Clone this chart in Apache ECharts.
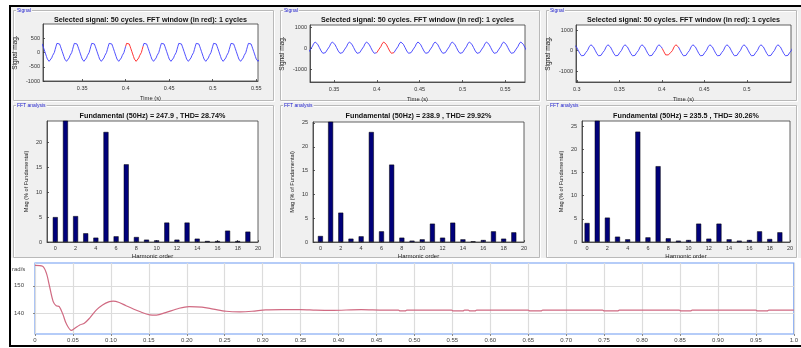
<!DOCTYPE html>
<html>
<head>
<meta charset="utf-8">
<script src="https://cdn.jsdelivr.net/npm/echarts@6/dist/echarts.min.js"></script>
<style>
  html, body { margin: 0; padding: 0; background: #fff; }
  #chart { width: 801px; height: 348px; }
</style>
</head>
<body>
<div id="chart"></div>
<script>
// ---- data ----
const harmonics = [0, 1, 2, 3, 4, 5, 6, 7, 8, 9, 10, 11, 12, 13, 14, 15, 16, 17, 18, 19];
const fft1 = [5.0, 100, 5.2, 1.75, 0.87, 22.1, 1.14, 15.6, 1.0, 0.47, 0.34, 3.9, 0.47, 3.9, 0.67, 0.2, 0.2, 2.28, 0.2, 2.08];
const fft2 = [1.26, 100, 6.16, 0.7, 1.19, 23.1, 2.24, 16.25, 0.91, 0.28, 0.56, 3.85, 0.91, 4.06, 0.56, 0.14, 0.42, 2.24, 0.7, 2.03];
const fft3 = [4.1, 100, 5.26, 1.15, 0.58, 23.8, 1.0, 16.35, 0.8, 0.29, 0.43, 3.96, 0.72, 3.96, 0.58, 0.29, 0.43, 2.3, 0.65, 2.09];
const fftTitles = [
  'Fundamental (50Hz) = 247.9 , THD= 28.74%',
  'Fundamental (50Hz) = 238.9 , THD= 29.92%',
  'Fundamental (50Hz) = 235.5 , THD= 30.26%'
];
const sigTitle = 'Selected signal: 50 cycles. FFT window (in red): 1 cycles';

// one 20 ms cycle of each signal (1 ms steps, from the rising zero crossing)
const sigCycle1 = [0, 110, 220, 320, 350, 280, 300, 220, 130, 40, -50, -140, -230, -300, -310, -250, -270, -190, -110, -50];
const sigCycle2 = [0, 90, 190, 270, 290, 230, 250, 180, 100, 20, -60, -140, -210, -250, -250, -200, -220, -160, -90, -40];
const sigCycle3 = [0, 90, 180, 260, 280, 225, 245, 175, 95, 15, -65, -145, -215, -260, -265, -215, -235, -170, -100, -45];
const sigCycleStart = [0.298, 0.304, 0.2925]; // time of first rising zero crossing
const sigStep = 0.001;
const fftWindow = [0.40, 0.42];

// rotor speed, bottom plot
const speedT = [0, 0.010, 0.015, 0.019, 0.024, 0.028, 0.032, 0.037, 0.041, 0.048, 0.052, 0.059, 0.065, 0.072, 0.081, 0.089, 0.098, 0.103, 0.111, 0.12, 0.138, 0.151, 0.16, 0.172, 0.19, 0.203, 0.22, 0.235, 0.252, 0.27, 0.286, 0.304, 0.325, 0.35, 0.37, 0.39, 0.43, 0.46, 0.479, 0.481, 0.488, 0.49, 0.549, 0.551, 0.564, 0.566, 0.571, 0.573, 0.58, 0.582, 0.65, 0.652, 0.667, 0.669, 0.748, 0.75, 0.768, 0.77, 0.849, 0.851, 0.864, 0.866, 0.95, 0.952, 0.965, 0.967, 1.0];
const speedV = [157.4, 157.1, 154.6, 150.0, 144.2, 142.7, 142.4, 139.4, 136.3, 133.7, 134.4, 135.7, 136.3, 138.2, 141.2, 143.0, 144.2, 144.4, 143.9, 142.7, 140.6, 139.4, 139.3, 140.2, 141.8, 142.4, 142.2, 141.5, 140.7, 140.5, 140.7, 141.2, 141.3, 141.3, 141.1, 141.0, 141.3, 141.1, 141.1, 140.8, 140.8, 141.1, 141.1, 140.8, 140.8, 141.1, 141.1, 140.8, 140.8, 141.1, 141.1, 140.8, 140.8, 141.1, 141.1, 140.8, 140.8, 141.1, 141.1, 140.8, 140.8, 141.1, 141.1, 140.8, 140.8, 141.1, 141.1];

// tick labels
const sigXTicks = [[0.35, 0.4, 0.45, 0.5, 0.55], [0.35, 0.4, 0.45, 0.5, 0.55], [0.3, 0.35, 0.4, 0.45, 0.5]];
const sigYTicks = [[-1000, -500, 0, 500], [-1000, 0, 1000], [-1000, 0, 1000]];
const fftXTicks = [0, 2, 4, 6, 8, 10, 12, 14, 16, 18, 20];
const fftYTicks = [[0, 5, 10, 15, 20], [0, 5, 10, 15, 20, 25], [0, 5, 10, 15, 20, 25]];
const speedYTicks = [140, 150];

// ---- build series ----
const sigCycles = [sigCycle1, sigCycle2, sigCycle3];
const ffts = [fft1, fft2, fft3];

function tile(cycle, start, tEnd) {
  const out = [];
  for (let k = 0; start + k * sigStep <= tEnd; k++) {
    out.push([+(start + k * sigStep).toFixed(4), cycle[k % cycle.length]]);
  }
  return out;
}
const inWindow = t => t >= fftWindow[0] - 1e-6 && t <= fftWindow[1] + 1e-6;
const sigData = sigCycles.map((c, i) => tile(c, sigCycleStart[i], 0.58));
const redData = sigData.map(d => d.filter(p => inWindow(p[0])));
// blue part leaves a gap where the red window is drawn
const blueData = sigData.map(d => d.map(p => {
  const inside = p[0] > fftWindow[0] + 0.0006 && p[0] < fftWindow[1] - 0.0006;
  return inside ? [p[0], null] : p;
}));

// ---- layout ----
const FONT = 'Liberation Sans';
const sigGrids = [
  { left: 43, top: 24, width: 215, height: 57 },
  { left: 310, top: 25, width: 215, height: 57 },
  { left: 576, top: 25, width: 215, height: 57 }
];
const sigRangeX = [[0.305, 0.552], [0.322, 0.573], [0.299, 0.552]];
const sigRangeY = [[-1000, 1000], [-1620, 1100], [-1537, 1244]];
const fftGrids = [
  { left: 47, top: 121, width: 211, height: 121 },
  { left: 313, top: 122, width: 211, height: 120 },
  { left: 582, top: 121, width: 208, height: 121 }
];
const fftMinX = [-0.82, -0.73, -0.5];
const fftMaxY = [24.3, 25.2, 26.1];
const cols = [[13, 275], [280, 541], [546, 798]];

const axisColor = '#3a3a3a';
const tickLabel = { fontSize: 5.5, color: '#333', fontFamily: FONT };

function matAxis(extra, ticks, fmt, margin, nameSize) {
  return Object.assign({
    type: 'value',
    axisLine: { show: true, onZero: false, lineStyle: { color: axisColor, width: 0.8 } },
    axisTick: { show: true, inside: true, length: 2, customValues: ticks, lineStyle: { color: axisColor, width: 0.8 } },
    axisLabel: Object.assign({ customValues: ticks, formatter: fmt, margin: margin, hideOverlap: false }, tickLabel),
    splitLine: { show: false },
    nameLocation: 'middle',
    nameTextStyle: { fontSize: nameSize, color: '#222', fontFamily: FONT }
  }, extra);
}
const num = v => String(parseFloat((+v).toFixed(2)));

const grid = [], xAxis = [], yAxis = [], series = [];

sigGrids.forEach((g, i) => {
  grid.push(Object.assign({ show: true, backgroundColor: '#fff', borderColor: axisColor, borderWidth: 0.8 }, g));
  xAxis.push(matAxis({ gridIndex: i, min: sigRangeX[i][0], max: sigRangeX[i][1], name: 'Time (s)', nameGap: 14 }, sigXTicks[i], num, 4, 5.8));
  yAxis.push(matAxis({ gridIndex: i, min: sigRangeY[i][0], max: sigRangeY[i][1], name: 'Signal mag.', nameGap: 24 }, sigYTicks[i], num, 3, 6.5));
});
fftGrids.forEach((g, i) => {
  grid.push(Object.assign({ show: true, backgroundColor: '#fff', borderColor: axisColor, borderWidth: 0.8 }, g));
  xAxis.push(matAxis({ gridIndex: 3 + i, min: fftMinX[i], max: 20, name: 'Harmonic order', nameGap: 11 }, fftXTicks, num, 3, 6));
  yAxis.push(matAxis({ gridIndex: 3 + i, min: 0, max: fftMaxY[i], name: 'Mag (% of Fundamental)', nameGap: 18 }, fftYTicks[i], num, 5, 5.6));
});

// bottom speed plot
grid.push({ left: 35, top: 263, width: 762, height: 71, show: true, backgroundColor: '#fff', borderColor: '#6d9af2', borderWidth: 1.2 });
xAxis.push({
  type: 'value', gridIndex: 6, min: 0, max: 1, interval: 0.05,
  axisLine: { show: false, onZero: false },
  axisTick: { show: true, length: 2, lineStyle: { color: '#888' } },
  axisLabel: { fontSize: 6, color: '#444', fontFamily: FONT, margin: 3,
    formatter: v => v === 0 ? '0' : (Math.abs(v - 1) < 1e-9 ? '1.0' : v.toFixed(2)) },
  splitLine: { show: true, lineStyle: { color: '#dcdcdc', width: 1.2 } }
});
yAxis.push({
  type: 'value', gridIndex: 6, min: 132.4, max: 158.3,
  axisLine: { show: false, onZero: false },
  axisTick: { show: true, length: 2, customValues: speedYTicks, lineStyle: { color: '#888' } },
  axisLabel: { customValues: speedYTicks, fontSize: 6, color: '#444', fontFamily: FONT, margin: 11 },
  splitLine: { show: true, lineStyle: { color: '#dcdcdc', width: 1.2 } }
});

blueData.forEach((d, i) => {
  series.push({ type: 'line', xAxisIndex: i, yAxisIndex: i, data: d, showSymbol: false, clip: true,
    connectNulls: false, lineStyle: { color: '#3d3dff', width: 0.9 }, z: 3 });
  series.push({ type: 'line', xAxisIndex: i, yAxisIndex: i, data: redData[i], showSymbol: false, clip: true,
    lineStyle: { color: '#ff1f1f', width: 0.9 }, z: 4 });
});
ffts.forEach((f, i) => {
  series.push({ type: 'bar', xAxisIndex: 3 + i, yAxisIndex: 3 + i, clip: true, barWidth: 5,
    data: harmonics.map((h, k) => [h, f[k]]),
    itemStyle: { color: '#00007a', borderColor: '#000', borderWidth: 0.5 } });
});
series.push({ type: 'line', xAxisIndex: 6, yAxisIndex: 6, showSymbol: false, smooth: 0.3,
  data: speedT.map((t, k) => [t, speedV[k]]),
  lineStyle: { color: '#d06a82', width: 1.2 } });

// ---- frames and texts ----
const graphic = [
  { type: 'rect', z: -10, shape: { x: 11, y: 7, width: 790, height: 251 }, style: { fill: '#f0f0f0' } }
];
function etched(x, y, w, h) {
  graphic.push({ type: 'rect', z: -5, shape: { x: x + 1, y: y + 1, width: w, height: h }, style: { fill: null, stroke: '#ffffff', lineWidth: 1 } });
  graphic.push({ type: 'rect', z: -4, shape: { x: x, y: y, width: w, height: h }, style: { fill: null, stroke: '#b9b9b9', lineWidth: 1 } });
}
function panelLabel(text, x, y) {
  graphic.push({ type: 'text', z: 50, x: x, y: y,
    style: { text: text, font: '5px ' + FONT, fill: '#1a1acc', backgroundColor: '#f0f0f0', padding: [0, 1], verticalAlign: 'middle' } });
}
cols.forEach((c, i) => {
  etched(c[0] + 0.5, 10.5, c[1] - c[0] - 2, 90);
  etched(c[0] + 0.5, 105.5, c[1] - c[0] - 2, 152);
  panelLabel('Signal', c[0] + 3, 10.5);
  panelLabel('FFT analysis', c[0] + 3, 105.5);
  const sg = sigGrids[i], fg = fftGrids[i];
  graphic.push({ type: 'text', z: 50, x: sg.left + sg.width / 2, y: 20.5,
    style: { text: sigTitle, font: 'bold 7.2px ' + FONT, fill: '#111', align: 'center', verticalAlign: 'middle' } });
  graphic.push({ type: 'text', z: 50, x: fg.left + fg.width / 2, y: 116,
    style: { text: fftTitles[i], font: 'bold 7.2px ' + FONT, fill: '#111', align: 'center', verticalAlign: 'middle' } });
});
graphic.push({ type: 'text', z: 50, x: 12, y: 269,
  style: { text: 'rad/s', font: '6px ' + FONT, fill: '#444', verticalAlign: 'middle' } });
// black outer frame
graphic.push({ type: 'line', z: 60, shape: { x1: 9, y1: 6, x2: 801, y2: 6 }, style: { stroke: '#000', lineWidth: 2 } });
graphic.push({ type: 'line', z: 60, shape: { x1: 10, y1: 5, x2: 10, y2: 347 }, style: { stroke: '#000', lineWidth: 2 } });
graphic.push({ type: 'line', z: 60, shape: { x1: 9, y1: 346, x2: 801, y2: 346 }, style: { stroke: '#000', lineWidth: 2 } });

const chart = echarts.init(document.getElementById('chart'));
chart.setOption({
  animation: false,
  textStyle: { fontFamily: FONT },
  grid: grid,
  xAxis: xAxis,
  yAxis: yAxis,
  series: series,
  graphic: graphic
});
</script>
</body>
</html>
